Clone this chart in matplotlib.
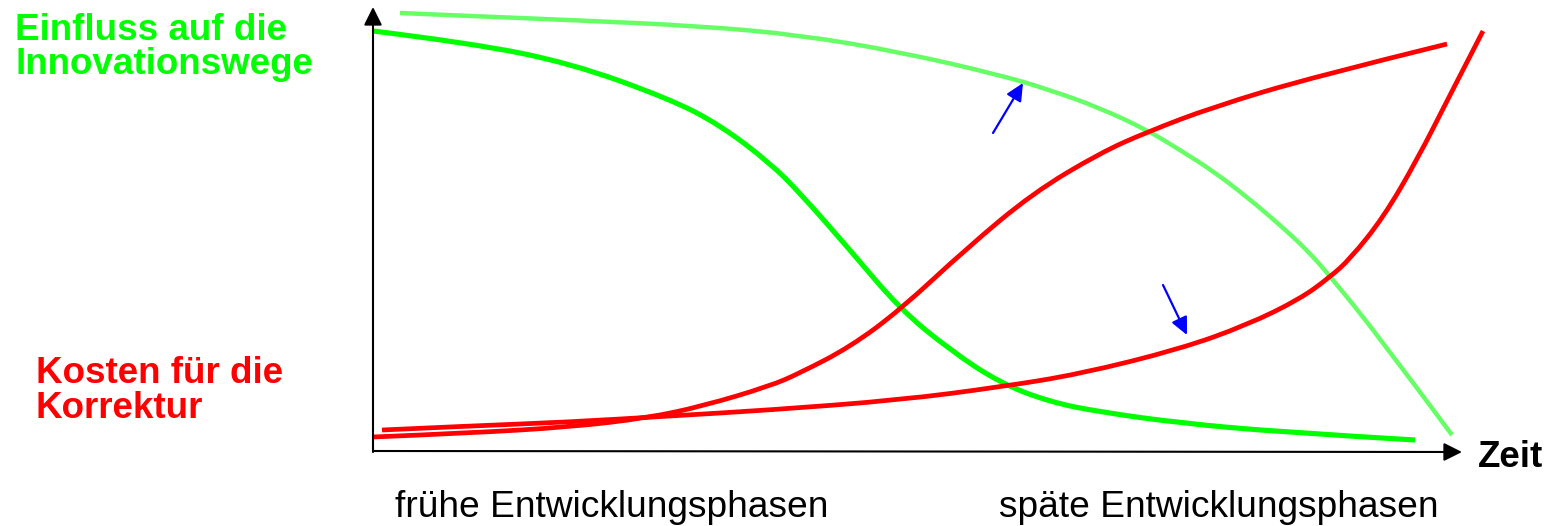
import matplotlib
matplotlib.use("Agg")
import matplotlib.pyplot as plt
from matplotlib.path import Path
from matplotlib.patches import PathPatch

# Curves (x = time from origin, y = height above time axis), pixel units
light_green_x = [27, 97, 197, 327, 427, 527, 627, 677, 727, 774, 807, 840, 874, 907, 934, 957, 1007, 1079]
light_green_y = [438, 435, 431, 425, 416, 399, 376, 361, 343, 321, 301, 280, 254, 226, 201, 175, 113, 16]

green_x = [0, 97, 197, 297, 347, 397, 427, 477, 527, 577, 627, 677, 727, 807, 907, 1042]
green_y = [420, 408, 388, 352, 326, 288, 258, 201, 142, 101, 68, 49, 39, 28, 19, 11]

red_s_x = [0, 97, 197, 274, 330, 397, 427, 477, 527, 594, 660, 727, 774, 840, 940, 1074]
red_s_y = [14, 18, 24, 33, 45, 65, 78, 104, 141, 203, 258, 298, 319, 344, 374, 407]

red_j_x = [9, 97, 197, 297, 397, 527, 627, 707, 807, 874, 927, 957, 977, 1010, 1044, 1077, 1110]
red_j_y = [21, 25, 29, 35, 41, 51, 64, 77, 102, 126, 152, 174, 192, 233, 291, 356, 420]

# Blue arrows: (tail, head)
arrows = [((790, 166), (814, 116)), ((620, 318), (650, 368))]

label_top = ["Einfluss auf die", "Innovationswege"]
label_bottom = ["Kosten für die", "Korrektur"]
phase_labels = ["frühe Entwicklungsphasen", "späte Entwicklungsphasen"]
axis_label = "Zeit"

ox, oy = 373, 451
W, H = 1551, 526
fig = plt.figure(figsize=(W / 100, H / 100), dpi=100)
ax = fig.add_axes([0, 0, 1, 1])
ax.set_xlim(-ox, W - ox)
ax.set_ylim(oy - H, oy)
ax.axis("off")


def smooth_curve(xs, ys, color, lw):
    pts = list(zip(xs, ys))
    verts = [pts[0]]
    codes = [Path.MOVETO]
    n = len(pts)
    for i in range(1, n - 1):
        if i < n - 2:
            end = ((pts[i][0] + pts[i + 1][0]) / 2, (pts[i][1] + pts[i + 1][1]) / 2)
        else:
            end = pts[n - 1]
        verts += [pts[i], end]
        codes += [Path.CURVE3, Path.CURVE3]
    patch = PathPatch(Path(verts, codes), facecolor="none", edgecolor=color, lw=lw,
                      capstyle="butt", joinstyle="round")
    ax.add_patch(patch)


smooth_curve(light_green_x, light_green_y, "#66FF66", 3.2)
smooth_curve(green_x, green_y, "#00FF00", 3.7)
smooth_curve(red_s_x, red_s_y, "#FF0000", 3.4)
smooth_curve(red_j_x, red_j_y, "#FF0000", 3.4)

# axes arrows
ax.annotate("", xy=(0, 444), xytext=(0, -1),
            arrowprops=dict(arrowstyle="-|>,head_length=1.1,head_width=0.55", color="black", lw=1.5,
                            shrinkA=0, shrinkB=0))
ax.annotate("", xy=(1089, -1), xytext=(0, 0),
            arrowprops=dict(arrowstyle="-|>,head_length=1.1,head_width=0.55", color="black", lw=1.5,
                            shrinkA=0, shrinkB=0))

for (tail, head) in arrows:
    ax.annotate("", xy=head, xytext=tail,
                arrowprops=dict(arrowstyle="-|>,head_length=1.05,head_width=0.5", color="#0000FF", lw=1.6,
                                shrinkA=0, shrinkB=0))

font = "Liberation Sans"
fs = 26.5
ax.text(15 - ox, oy - 40, label_top[0], color="#00FF00", fontsize=fs, fontweight="bold",
        family=font, ha="left", va="baseline")
ax.text(15 - ox, oy - 74, label_top[1], color="#00FF00", fontsize=fs, fontweight="bold",
        family=font, ha="left", va="baseline")
ax.text(36 - ox, oy - 383, label_bottom[0], color="#FF0000", fontsize=fs, fontweight="bold",
        family=font, ha="left", va="baseline")
ax.text(36 - ox, oy - 418, label_bottom[1], color="#FF0000", fontsize=fs, fontweight="bold",
        family=font, ha="left", va="baseline")
ax.text(1478 - ox, oy - 467, axis_label, color="black", fontsize=fs, fontweight="bold",
        family=font, ha="left", va="baseline")
ax.text(395 - ox, oy - 517, phase_labels[0], color="black", fontsize=26.7,
        family=font, ha="left", va="baseline")
ax.text(999 - ox, oy - 517, phase_labels[1], color="black", fontsize=26.7,
        family=font, ha="left", va="baseline")

fig.savefig("out.png", dpi=100)
